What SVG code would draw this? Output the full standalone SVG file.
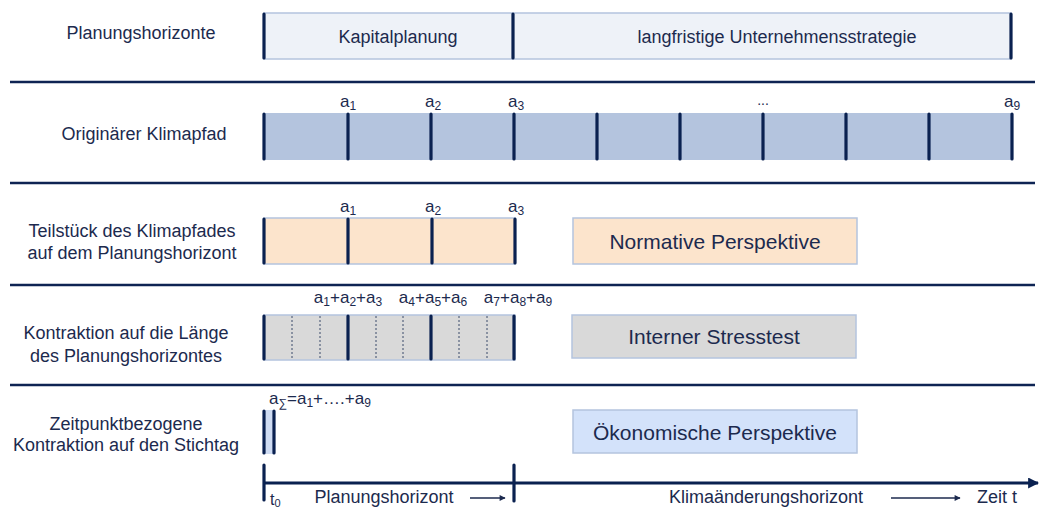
<svg xmlns="http://www.w3.org/2000/svg" width="1043" height="511" viewBox="0 0 1043 511">
<style>
text{font-family:"Liberation Sans",Arial,sans-serif;fill:#1c2a4e}
.lbl{font-size:18px;text-anchor:middle}
.a{font-size:17px;text-anchor:middle}
.sub{font-size:12px}
.persp{font-size:21px;text-anchor:middle}
.sep{stroke:#0e2453;stroke-width:2.5}
.tick{stroke:#0a2150;stroke-width:3.2;stroke-linecap:round}
.dot{stroke:#3a4a6a;stroke-width:1;stroke-dasharray:2 2}
.box{stroke:#b4c4de;stroke-width:1.5}
</style>
<defs>
<marker id="ah" viewBox="0 0 10 10" refX="9" refY="5" markerWidth="7" markerHeight="6" orient="auto" markerUnits="userSpaceOnUse"><path d="M0,0L10,5L0,10z" fill="#1c2a4e"/></marker>
<marker id="ahBig" viewBox="0 0 10 10" refX="9" refY="5" markerWidth="11" markerHeight="11" orient="auto" markerUnits="userSpaceOnUse"><path d="M0,0L10,5L0,10z" fill="#0a2150"/></marker>
</defs>

<g id="separators">
<line class="sep" x1="10" y1="82" x2="1035" y2="82"/>
<line class="sep" x1="10" y1="183" x2="1035" y2="183"/>
<line class="sep" x1="10" y1="285" x2="1035" y2="285"/>
<line class="sep" x1="10" y1="385" x2="1035" y2="385"/>
</g>

<g id="labels-left">
<text class="lbl" x="141" y="39">Planungshorizonte</text>
<text class="lbl" x="144" y="140">Originärer Klimapfad</text>
<text class="lbl" x="132" y="237">Teilstück des Klimapfades</text>
<text class="lbl" x="132" y="259">auf dem Planungshorizont</text>
<text class="lbl" x="126" y="339">Kontraktion auf die Länge</text>
<text class="lbl" x="126" y="362">des Planungshorizontes</text>
<text class="lbl" x="126" y="430">Zeitpunktbezogene</text>
<text class="lbl" x="126" y="451">Kontraktion auf den Stichtag</text>
</g>

<g id="planungshorizonte">
<rect class="box" x="264" y="13" width="747" height="46" fill="#eef2f8"/>
<line class="tick" x1="264" y1="14" x2="264" y2="58"/>
<line class="tick" x1="513" y1="14" x2="513" y2="58"/>
<line class="tick" x1="1011" y1="14" x2="1011" y2="58"/>
<text class="lbl" x="398" y="43">Kapitalplanung</text>
<text class="lbl" x="777" y="43">langfristige Unternehmensstrategie</text>
</g>

<g id="klimapfad">
<rect x="264" y="113" width="748" height="47" fill="#b4c4de"/>
<line class="tick" x1="264" y1="114" x2="264" y2="159"/>
<line class="tick" x1="348" y1="114" x2="348" y2="159"/>
<line class="tick" x1="431" y1="114" x2="431" y2="159"/>
<line class="tick" x1="514" y1="114" x2="514" y2="159"/>
<line class="tick" x1="597" y1="114" x2="597" y2="159"/>
<line class="tick" x1="680" y1="114" x2="680" y2="159"/>
<line class="tick" x1="763" y1="114" x2="763" y2="159"/>
<line class="tick" x1="846" y1="114" x2="846" y2="159"/>
<line class="tick" x1="929" y1="114" x2="929" y2="159"/>
<line class="tick" x1="1012" y1="114" x2="1012" y2="159"/>
<text class="a" x="348" y="107">a<tspan class="sub" dy="3">1</tspan></text>
<text class="a" x="433" y="107">a<tspan class="sub" dy="3">2</tspan></text>
<text class="a" x="516" y="107">a<tspan class="sub" dy="3">3</tspan></text>
<text class="a" x="763" y="105" style="font-size:14px">...</text>
<text class="a" x="1012" y="107">a<tspan class="sub" dy="3">9</tspan></text>
</g>

<g id="teilstueck">
<rect class="box" x="264" y="218" width="251" height="46" fill="#fce4cc"/>
<line class="tick" x1="264" y1="219" x2="264" y2="263"/>
<line class="tick" x1="348" y1="219" x2="348" y2="263"/>
<line class="tick" x1="432" y1="219" x2="432" y2="263"/>
<line class="tick" x1="515" y1="219" x2="515" y2="263"/>
<text class="a" x="348" y="212">a<tspan class="sub" dy="3">1</tspan></text>
<text class="a" x="433" y="212">a<tspan class="sub" dy="3">2</tspan></text>
<text class="a" x="516" y="212">a<tspan class="sub" dy="3">3</tspan></text>
</g>

<g id="normative">
<rect class="box" x="573" y="218" width="284" height="46" fill="#fce4cc"/>
<text class="persp" x="715" y="249">Normative Perspektive</text>
</g>

<g id="kontraktion">
<rect class="box" x="264" y="315" width="251" height="45" fill="#d9d9d9"/>
<line class="dot" x1="292" y1="316" x2="292" y2="359"/>
<line class="dot" x1="320" y1="316" x2="320" y2="359"/>
<line class="dot" x1="376" y1="316" x2="376" y2="359"/>
<line class="dot" x1="403" y1="316" x2="403" y2="359"/>
<line class="dot" x1="459" y1="316" x2="459" y2="359"/>
<line class="dot" x1="487" y1="316" x2="487" y2="359"/>
<line class="tick" x1="264" y1="316" x2="264" y2="359"/>
<line class="tick" x1="348" y1="316" x2="348" y2="359"/>
<line class="tick" x1="431" y1="316" x2="431" y2="359"/>
<line class="tick" x1="514" y1="316" x2="514" y2="359"/>
<text class="a" x="348" y="303">a<tspan class="sub" dy="3">1</tspan><tspan dy="-3">+a</tspan><tspan class="sub" dy="3">2</tspan><tspan dy="-3">+a</tspan><tspan class="sub" dy="3">3</tspan></text>
<text class="a" x="433" y="303">a<tspan class="sub" dy="3">4</tspan><tspan dy="-3">+a</tspan><tspan class="sub" dy="3">5</tspan><tspan dy="-3">+a</tspan><tspan class="sub" dy="3">6</tspan></text>
<text class="a" x="518" y="303">a<tspan class="sub" dy="3">7</tspan><tspan dy="-3">+a</tspan><tspan class="sub" dy="3">8</tspan><tspan dy="-3">+a</tspan><tspan class="sub" dy="3">9</tspan></text>
</g>

<g id="stresstest">
<rect class="box" x="572" y="315" width="284" height="43" fill="#d9d9d9"/>
<text class="persp" x="714" y="344">Interner Stresstest</text>
</g>

<g id="stichtag">
<rect x="264" y="410" width="10" height="44" fill="#cfdcf3"/>
<line class="tick" x1="264" y1="411" x2="264" y2="453"/>
<line class="tick" x1="274" y1="411" x2="274" y2="453"/>
<text x="269" y="404" style="font-size:17px">a<tspan class="sub" dy="3">∑</tspan><tspan dy="-3">=a</tspan><tspan class="sub" dy="3">1</tspan><tspan dy="-3">+….+a</tspan><tspan class="sub" dy="3">9</tspan></text>
</g>

<g id="oekonomische">
<rect class="box" x="573" y="410" width="284" height="43" fill="#d3e2fa"/>
<text class="persp" x="715" y="440">Ökonomische Perspektive</text>
</g>

<g id="connectors">
<line x1="264" y1="483" x2="1038" y2="483" stroke="#0a2150" stroke-width="3" marker-end="url(#ahBig)"/>
<line class="tick" x1="264" y1="465" x2="264" y2="500"/>
<line class="tick" x1="514" y1="465" x2="514" y2="501"/>
<line x1="470" y1="498" x2="505" y2="498" stroke="#1c2a4e" stroke-width="1.3" marker-end="url(#ah)"/>
<line x1="891" y1="498" x2="960" y2="498" stroke="#1c2a4e" stroke-width="1.3" marker-end="url(#ah)"/>
</g>

<g id="axis-labels">
<text x="270" y="505" style="font-size:16px">t<tspan style="font-size:11px" dy="2">0</tspan></text>
<text class="lbl" x="384" y="503">Planungshorizont</text>
<text class="lbl" x="766" y="503">Klimaänderungshorizont</text>
<text class="lbl" x="997" y="503">Zeit t</text>
</g>
</svg>
